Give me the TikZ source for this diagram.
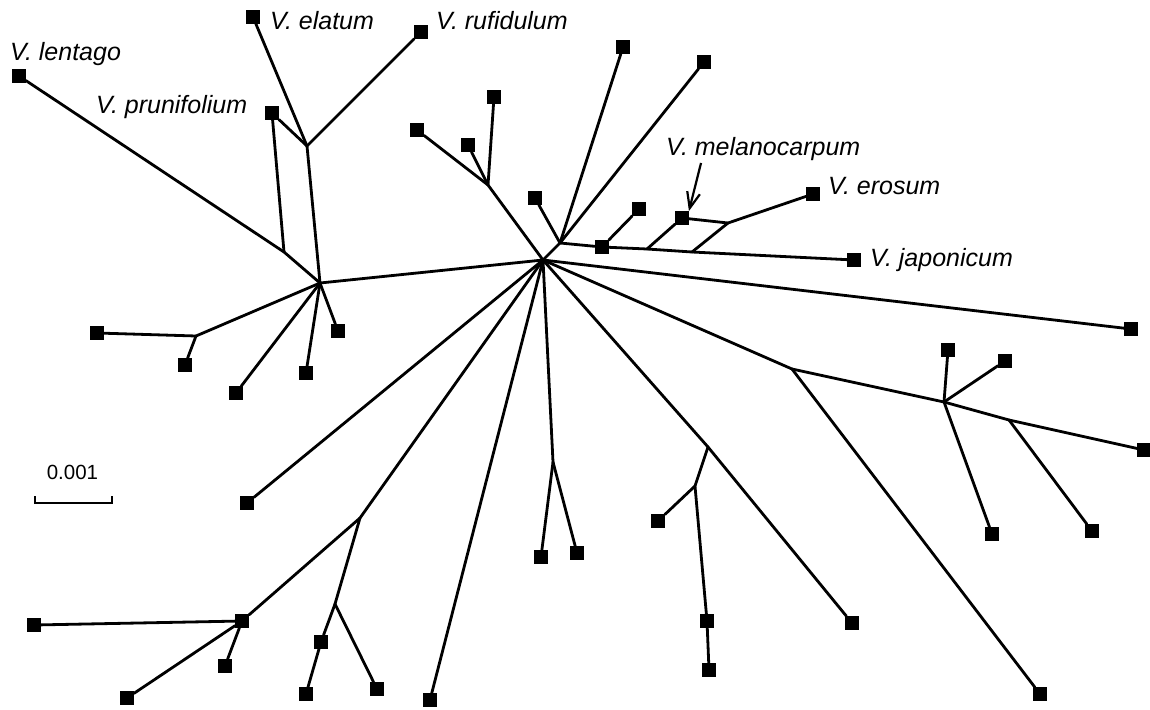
\documentclass[tikz,border=0pt]{standalone}
\usepackage{fontspec}
\setmainfont{Liberation Sans}
\usetikzlibrary{arrows.meta}
\tikzset{
  leaf/.style={rectangle, fill=black, inner sep=0pt, minimum size=13.5pt},
  edge/.style={line width=2.8pt, line cap=round, line join=round},
  lab/.style={font=\fontsize{25}{29}\selectfont\itshape, inner sep=0pt, anchor=base west},
  pointer/.style={line width=2.2pt, -{Straight Barb[length=16pt,width=13pt,line width=2.2pt]}},
}
\begin{document}
\begin{tikzpicture}[x=1pt,y=-1pt]
\useasboundingbox (0,0) rectangle (1150,709);
% junctions
\coordinate (C) at (543,260);
\coordinate (L) at (320,283);
\coordinate (A) at (284,252);
\coordinate (B) at (307,146);
\coordinate (D) at (196,336);
\coordinate (U) at (488,185);
\coordinate (H2) at (560,243);
\coordinate (N2) at (647,249);
\coordinate (N3) at (692,252);
\coordinate (N4) at (728,223);
\coordinate (R) at (792,369);
\coordinate (R2) at (944,402);
\coordinate (R3) at (1009,420);
\coordinate (M) at (708,447);
\coordinate (M2) at (695,486);
\coordinate (E) at (553,462);
\coordinate (P) at (360,518);
\coordinate (P2) at (335,604);
\coordinate (arrtail) at (701,163);
% leaves
\node[leaf] (lentago) at (19,76) {};
\node[leaf] (prunifolium) at (272,113) {};
\node[leaf] (elatum) at (253,17) {};
\node[leaf] (rufidulum) at (421,32) {};
\node[leaf] (l1) at (97,333) {};
\node[leaf] (l2) at (185,365) {};
\node[leaf] (l3) at (236,393) {};
\node[leaf] (l4) at (306,373) {};
\node[leaf] (l5) at (338,331) {};
\node[leaf] (u1) at (417,130) {};
\node[leaf] (u2) at (468,145) {};
\node[leaf] (u3) at (494,97) {};
\node[leaf] (h1) at (623,47) {};
\node[leaf] (h2) at (704,62) {};
\node[leaf] (h3) at (535,198) {};
\node[leaf] (s1) at (602,247) {};
\node[leaf] (s2) at (639,209) {};
\node[leaf] (mel) at (682,218) {};
\node[leaf] (erosum) at (813,194) {};
\node[leaf] (jap) at (854,260) {};
\node[leaf] (r0) at (1131,329) {};
\node[leaf] (r1) at (1040,694) {};
\node[leaf] (r2) at (948,350) {};
\node[leaf] (r3) at (1005,361) {};
\node[leaf] (r4) at (992,534) {};
\node[leaf] (r5) at (1144,450) {};
\node[leaf] (r6) at (1092,531) {};
\node[leaf] (m1) at (852,623) {};
\node[leaf] (m2) at (658,521) {};
\node[leaf] (m3) at (707,621) {};
\node[leaf] (m4) at (709,670) {};
\node[leaf] (e1) at (541,557) {};
\node[leaf] (e2) at (577,553) {};
\node[leaf] (f1) at (430,700) {};
\node[leaf] (g1) at (247,503) {};
\node[leaf] (Q) at (242,621) {};
\node[leaf] (q1) at (34,625) {};
\node[leaf] (q2) at (127,698) {};
\node[leaf] (q3) at (225,666) {};
\node[leaf] (p1) at (321,642) {};
\node[leaf] (p2) at (306,694) {};
\node[leaf] (p3) at (377,689) {};
% edges
\begin{scope}[edge]
\draw (C) -- (L);
\draw (L) -- (A) -- (lentago);
\draw (A) -- (prunifolium) -- (B);
\draw (L) -- (B);
\draw (B) -- (elatum);
\draw (B) -- (rufidulum);
\draw (L) -- (D);
\draw (D) -- (l1);
\draw (D) -- (l2);
\draw (L) -- (l3);
\draw (L) -- (l4);
\draw (L) -- (l5);
\draw (C) -- (U);
\draw (U) -- (u1);
\draw (U) -- (u2);
\draw (U) -- (u3);
\draw (C) -- (H2);
\draw (H2) -- (h1);
\draw (H2) -- (h2);
\draw (H2) -- (h3);
\draw (H2) -- (s1);
\draw (s1) -- (s2);
\draw (s1) -- (N2);
\draw (N2) -- (mel);
\draw (N2) -- (N3);
\draw (N3) -- (N4);
\draw (N4) -- (mel);
\draw (N4) -- (erosum);
\draw (N3) -- (jap);
\draw (C) -- (r0);
\draw (C) -- (R);
\draw (R) -- (r1);
\draw (R) -- (R2);
\draw (R2) -- (r2);
\draw (R2) -- (r3);
\draw (R2) -- (r4);
\draw (R2) -- (R3);
\draw (R3) -- (r5);
\draw (R3) -- (r6);
\draw (C) -- (M);
\draw (M) -- (m1);
\draw (M) -- (M2);
\draw (M2) -- (m2);
\draw (M2) -- (m3);
\draw (m3) -- (m4);
\draw (C) -- (E);
\draw (E) -- (e1);
\draw (E) -- (e2);
\draw (C) -- (f1);
\draw (C) -- (g1);
\draw (C) -- (P);
\draw (P) -- (Q);
\draw (Q) -- (q1);
\draw (Q) -- (q2);
\draw (Q) -- (q3);
\draw (P) -- (P2);
\draw (P2) -- (p1);
\draw (p1) -- (p2);
\draw (P2) -- (p3);
\end{scope}
% redraw squares on top
\foreach \n in {lentago,prunifolium,elatum,rufidulum,l1,l2,l3,l4,l5,u1,u2,u3,h1,h2,h3,s1,s2,mel,erosum,jap,r0,r1,r2,r3,r4,r5,r6,m1,m2,m3,m4,e1,e2,f1,g1,Q,q1,q2,q3,p1,p2,p3}
  \fill (\n.south west) rectangle (\n.north east);
% pointer
\draw[pointer] (arrtail) -- (mel.north east);
% labels
\node[lab] (tlentago) at (10,60) {V. lentago};
\node[lab] (telatum) at (270,29.5) {V. elatum};
\node[lab] (trufidulum) at (436,29.5) {V. rufidulum};
\node[lab] (tprunifolium) at (96,113) {V. prunifolium};
\node[lab] (tmel) at (666,155) {V. melanocarpum};
\node[lab] (terosum) at (828,194) {V. erosum};
\node[lab] (tjap) at (870,266) {V. japonicum};
% scale bar
\draw[line width=2pt] (34.5,496) -- (34.5,503) -- (112,503) -- (112,496);
\node[font=\fontsize{20.5}{24}\selectfont, inner sep=0pt] (scalelab) at (72.5,472) {0.001};
\end{tikzpicture}
\end{document}
